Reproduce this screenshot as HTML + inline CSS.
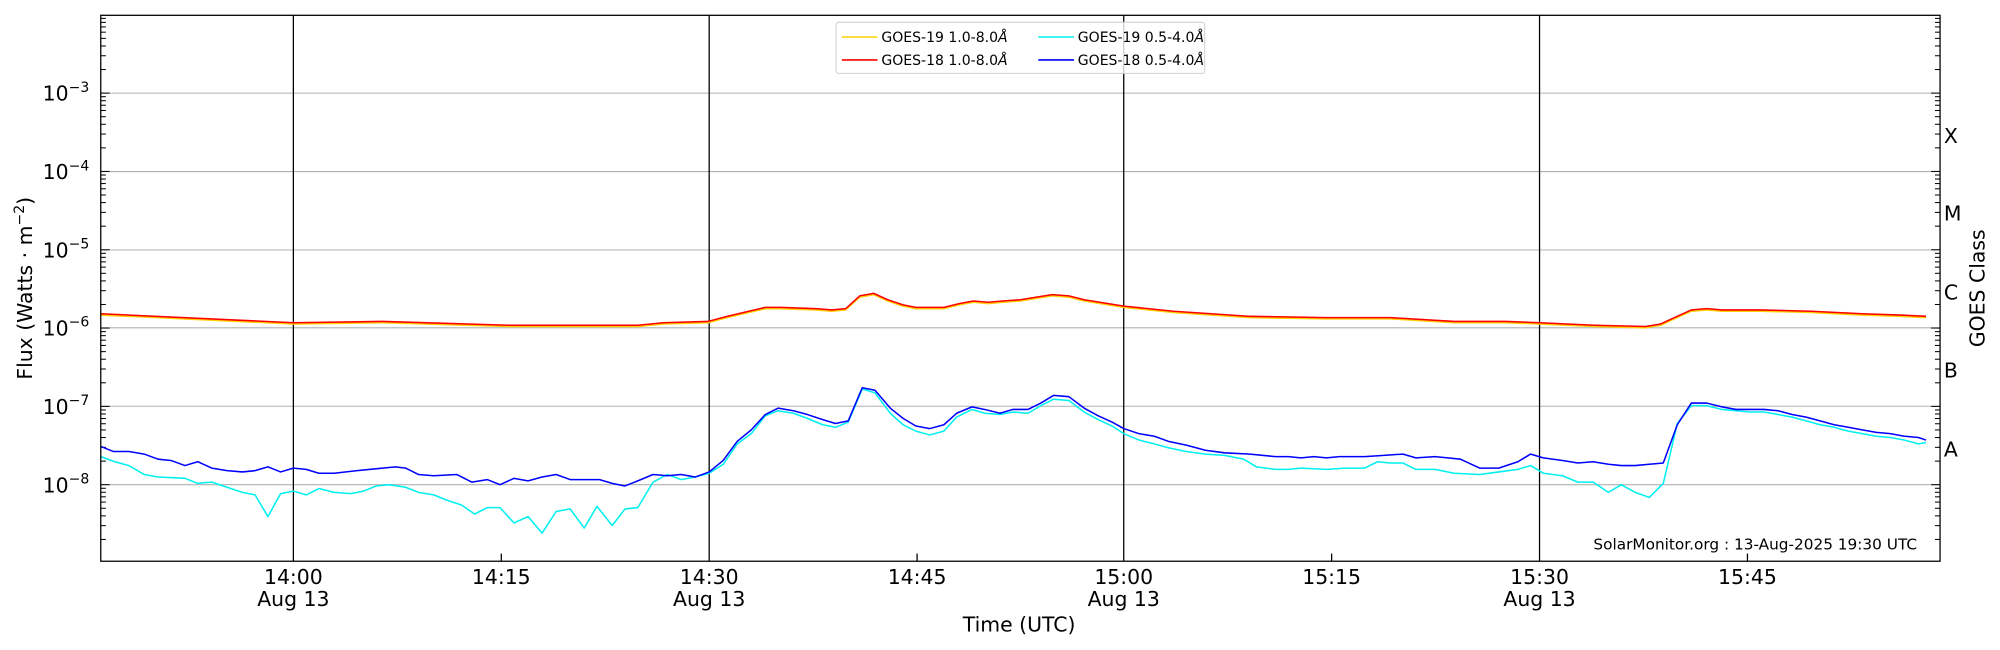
<!DOCTYPE html>
<html><head><meta charset="utf-8"><style>
html,body{margin:0;padding:0;background:#fff;}
svg{display:block;font-family:"DejaVu Sans","Liberation Sans",sans-serif;}
</style></head><body>
<svg id="s" width="2000" height="650" viewBox="0 0 1568 509.6" xmlns="http://www.w3.org/2000/svg">
<rect width="1568" height="510" fill="#fff"/>
<g id="grid" stroke="#b0b0b0" stroke-width="0.8">
<line x1="79" y1="73" x2="1521" y2="73"/>
<line x1="79" y1="134.5" x2="1521" y2="134.5"/>
<line x1="79" y1="196" x2="1521" y2="196"/>
<line x1="79" y1="257" x2="1521" y2="257"/>
<line x1="79" y1="318.5" x2="1521" y2="318.5"/>
<line x1="79" y1="380" x2="1521" y2="380"/>
</g>
<g stroke="#000" stroke-width="1">
<line x1="230" y1="12" x2="230" y2="440"/>
<line x1="556" y1="12" x2="556" y2="440"/>
<line x1="881" y1="12" x2="881" y2="440"/>
<line x1="1207" y1="12" x2="1207" y2="440"/>
<line x1="393" y1="440" x2="393" y2="434"/>
<line x1="719" y1="440" x2="719" y2="434"/>
<line x1="1044" y1="440" x2="1044" y2="434"/>
<line x1="1370" y1="440" x2="1370" y2="434"/>
</g>
<g id="ticks" stroke="#000" stroke-width="0.8"></g>
<g fill="none" stroke-width="1.2" stroke-linejoin="round">
<polyline stroke="#ffd000" points="79,247 230,254 300,253 400,256 500,256 520,254 555,253 570,249 600,242 612,242 640,243 652,244 663,243 674,233 685,231 696,236 708,240 718,242 740,242 752,239 763,237 775,238 786,237 800,236 812,234 825,232 838,233 850,236 881,241 920,245 980,249 1040,250 1090,250 1140,253 1180,253 1207,254 1250,256 1290,257 1302,255 1315,249 1326,244 1338,243 1350,244 1380,244 1420,245 1460,247 1490,248 1510,249"/>
<polyline stroke="#ff0000" points="79,246 230,253 300,252 400,255 500,255 520,253 555,252 570,248 600,241 612,241 640,242 652,243 663,242 674,232 685,230 696,235 708,239 718,241 740,241 752,238 763,236 775,237 786,236 800,235 812,233 825,231 838,232 850,235 881,240 920,244 980,248 1040,249 1090,249 1140,252 1180,252 1207,253 1250,255 1290,256 1302,254 1315,248 1326,243 1338,242 1350,243 1380,243 1420,244 1460,246 1490,247 1510,248"/>
<polyline stroke="#00f0f0" points="79,358 90,362 101,365 113,372 124,374 145,375 155,379 166,378 178,382 190,386 200,388 210,405 220,387 230,385 240,388 250,383 262,386 275,387 285,385 295,381 305,380 318,382 328,386 340,388 350,392 362,396 372,403 382,398 392,398 403,410 414,405 425,418 436,401 447,399 458,414 468,397 480,412 490,399 500,398 512,378 523,372 534,376 545,374 556,371 567,364 578,348 589,340 600,326 610,322 622,324 633,328 645,333 655,335 665,331 676,305 686,308 698,324 708,333 718,338 729,341 740,338 750,327 762,321 772,324 784,325 794,323 806,324 816,318 826,313 838,314 850,323 861,329 872,334 881,340 893,345 905,348 916,351 930,354 945,356 960,357 975,360 985,366 1000,368 1010,368 1020,367 1040,368 1055,367 1070,367 1080,362 1090,363 1100,363 1110,368 1125,368 1140,371 1160,372 1175,370 1190,368 1200,365 1210,371 1225,373 1237,378 1249,378 1261,386 1271,380 1282,386 1293,390 1304,379 1315,332 1326,318 1338,318 1350,321 1361,322 1372,323 1383,323 1394,325 1405,327 1416,330 1427,333 1438,335 1449,338 1460,340 1471,342 1482,343 1493,345 1504,348 1510,347"/>
<polyline stroke="#0000ff" points="79,350 89,354 101,354 113,356 124,360 134,361 145,365 155,362 166,367 178,369 190,370 200,369 210,366 220,370 230,367 240,368 250,371 262,371 280,369 300,367 310,366 318,367 328,372 340,373 358,372 370,378 382,376 392,380 403,375 414,377 425,374 436,372 447,376 460,376 470,376 480,379 490,381 500,377 512,372 523,373 534,372 545,374 556,370 567,361 578,346 589,337 600,325 610,320 622,322 633,325 645,329 655,332 665,330 676,304 686,306 698,320 708,328 718,334 729,336 740,333 750,324 762,319 772,321 784,324 794,321 806,321 816,316 826,310 838,311 850,320 861,326 872,331 881,336 893,340 905,342 916,346 930,349 945,353 960,355 980,356 1000,358 1010,358 1020,359 1030,358 1040,359 1050,358 1070,358 1085,357 1100,356 1110,359 1125,358 1135,359 1145,360 1160,367 1175,367 1190,362 1200,356 1210,359 1225,361 1237,363 1249,362 1261,364 1271,365 1282,365 1293,364 1304,363 1315,333 1326,316 1338,316 1350,319 1361,321 1372,321 1383,321 1394,322 1405,325 1416,327 1427,330 1438,333 1449,335 1460,337 1471,339 1482,340 1493,342 1504,343 1510,345"/>
</g>
<rect x="79" y="12" width="1442" height="428" fill="none" stroke="#000" stroke-width="1"/>
<g font-size="16" fill="#000" text-anchor="end">
<text x="70" y="79">10<tspan dy="-7" font-size="11">−3</tspan></text>
<text x="70" y="140.5">10<tspan dy="-7" font-size="11">−4</tspan></text>
<text x="70" y="202">10<tspan dy="-7" font-size="11">−5</tspan></text>
<text x="70" y="263">10<tspan dy="-7" font-size="11">−6</tspan></text>
<text x="70" y="324.5">10<tspan dy="-7" font-size="11">−7</tspan></text>
<text x="70" y="386">10<tspan dy="-7" font-size="11">−8</tspan></text>
</g>
<g font-size="16" fill="#000" text-anchor="middle">
<text x="230" y="458">14:00</text><text x="230" y="475">Aug 13</text>
<text x="393" y="458">14:15</text>
<text x="556" y="458">14:30</text><text x="556" y="475">Aug 13</text>
<text x="719" y="458">14:45</text>
<text x="881" y="458">15:00</text><text x="881" y="475">Aug 13</text>
<text x="1044" y="458">15:15</text>
<text x="1207" y="458">15:30</text><text x="1207" y="475">Aug 13</text>
<text x="1370" y="458">15:45</text>
<text x="799" y="495">Time (UTC)</text>
<text transform="translate(25,226) rotate(-90)">Flux (Watts · m<tspan dy="-6" font-size="11">−2</tspan><tspan dy="6">)</tspan></text>
<text transform="translate(1556,226) rotate(-90)">GOES Class</text>
</g>
<g font-size="16" fill="#000">
<text x="1524" y="112">X</text>
<text x="1524" y="173">M</text>
<text x="1524" y="235">C</text>
<text x="1524" y="296">B</text>
<text x="1524" y="358">A</text>
</g>
<text x="1503" y="431" font-size="12" text-anchor="end" fill="#000">SolarMonitor.org : 13-Aug-2025 19:30 UTC</text>
<rect x="655.5" y="17.5" width="289" height="40" rx="2" fill="#fff" fill-opacity="0.8" stroke="#d0d0d0" stroke-width="0.8"/>
<g stroke-width="1.2">
<line x1="660" y1="29" x2="688" y2="29" stroke="#ffd000"/>
<line x1="660" y1="47" x2="688" y2="47" stroke="#ff0000"/>
<line x1="814" y1="29" x2="842" y2="29" stroke="#00f0f0"/>
<line x1="814" y1="47" x2="842" y2="47" stroke="#0000ff"/>
</g>
<g font-size="11" fill="#000">
<text x="691" y="33">GOES-19 1.0-8.0<tspan font-style="italic">Å</tspan></text>
<text x="691" y="51">GOES-18 1.0-8.0<tspan font-style="italic">Å</tspan></text>
<text x="845" y="33">GOES-19 0.5-4.0<tspan font-style="italic">Å</tspan></text>
<text x="845" y="51">GOES-18 0.5-4.0<tspan font-style="italic">Å</tspan></text>
</g>
</svg>
<script>
(function(){
var g=document.getElementById('ticks'),d=61.4,base=380,h='';
for(var n=-9;n<=-2;n++){
  var y0=base-(n+8)*d;
  for(var k=1;k<10;k++){
    var y=y0-d*Math.log10(k);
    if(y<12||y>440)continue;
    var L=(k==1)?7:4;
    h+='<line x1="79" y1="'+y+'" x2="'+(79+L)+'" y2="'+y+'"/>';
    h+='<line x1="1521" y1="'+y+'" x2="'+(1521-L)+'" y2="'+y+'"/>';
  }
}
g.innerHTML=h;
})();
</script>
</body></html>
